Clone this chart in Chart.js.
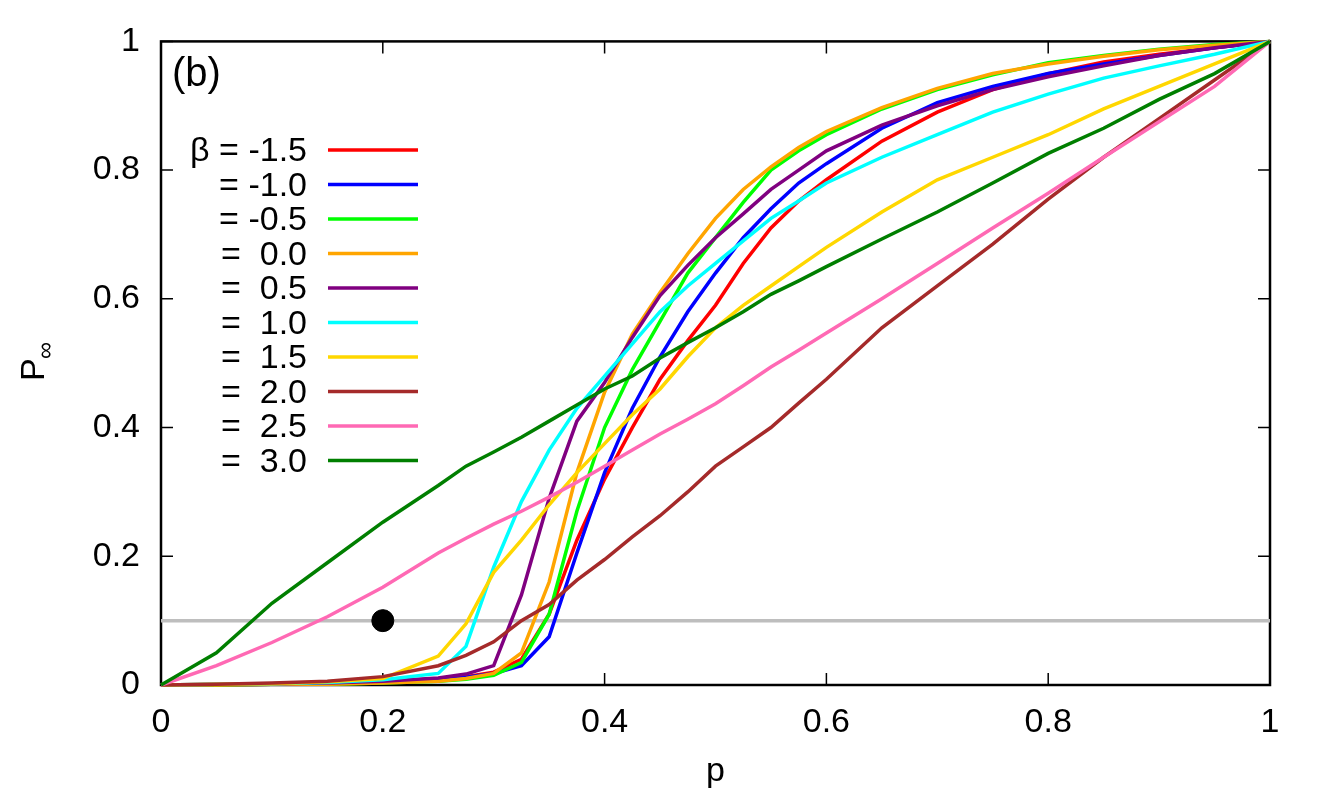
<!DOCTYPE html>
<html>
<head>
<meta charset="utf-8">
<script src="https://cdn.jsdelivr.net/npm/chart.js@4.4.1/dist/chart.umd.min.js"></script>
<style>
  html, body { margin: 0; padding: 0; background: #fff; }
  #wrap { width: 1329px; height: 797px; }
</style>
</head>
<body>
<div id="wrap"><canvas id="chart" width="1329" height="797"></canvas></div>
<script>
'use strict';

// occupation probability p (shared x grid)
const pValues = [0, 0.05, 0.1, 0.15, 0.2, 0.25, 0.275, 0.3, 0.325, 0.35, 0.375, 0.4, 0.425, 0.45,
    0.475, 0.5, 0.525, 0.55, 0.575, 0.6, 0.65, 0.7, 0.75, 0.8, 0.85, 0.9, 0.95, 1];

const betaLabels = ['β = -1.5', '= -1.0', '= -0.5', '=  0.0', '=  0.5', '=  1.0', '=  1.5', '=  2.0', '=  2.5', '=  3.0'];

const betaM15 = [0, 0, 0.001, 0.002, 0.005, 0.009, 0.013, 0.02, 0.04, 0.11, 0.225, 0.32, 0.40, 0.475,
    0.535, 0.59, 0.655, 0.71, 0.752, 0.785, 0.845, 0.89, 0.925, 0.95, 0.968, 0.98, 0.99, 1];
const betaM10 = [0, 0, 0.001, 0.002, 0.004, 0.008, 0.012, 0.018, 0.03, 0.075, 0.205, 0.33, 0.43, 0.51,
    0.58, 0.64, 0.695, 0.74, 0.78, 0.81, 0.865, 0.905, 0.93, 0.95, 0.965, 0.978, 0.99, 1];
const betaM05 = [0, 0, 0.001, 0.001, 0.003, 0.006, 0.009, 0.015, 0.035, 0.11, 0.27, 0.40, 0.49, 0.565,
    0.64, 0.695, 0.75, 0.80, 0.83, 0.855, 0.895, 0.925, 0.948, 0.967, 0.978, 0.988, 0.995, 1];
const beta00 = [0, 0, 0.001, 0.001, 0.003, 0.006, 0.01, 0.018, 0.05, 0.16, 0.33, 0.455, 0.545, 0.61,
    0.67, 0.725, 0.77, 0.805, 0.835, 0.86, 0.897, 0.927, 0.95, 0.965, 0.977, 0.987, 0.994, 1];
const beta05 = [0, 0.001, 0.002, 0.003, 0.006, 0.011, 0.017, 0.03, 0.14, 0.29, 0.41, 0.47, 0.54, 0.605,
    0.652, 0.695, 0.732, 0.77, 0.80, 0.83, 0.87, 0.90, 0.925, 0.945, 0.962, 0.978, 0.99, 1];
const beta10 = [0, 0.001, 0.002, 0.004, 0.008, 0.018, 0.06, 0.183, 0.285, 0.365, 0.43, 0.48, 0.53, 0.58,
    0.62, 0.655, 0.69, 0.725, 0.752, 0.78, 0.82, 0.855, 0.89, 0.918, 0.943, 0.962, 0.98, 1];
const beta15 = [0, 0.001, 0.002, 0.005, 0.01, 0.045, 0.095, 0.175, 0.225, 0.28, 0.33, 0.375, 0.42, 0.46,
    0.51, 0.555, 0.59, 0.62, 0.65, 0.68, 0.735, 0.785, 0.82, 0.855, 0.895, 0.93, 0.965, 1];
const beta20 = [0, 0.001, 0.003, 0.006, 0.013, 0.03, 0.046, 0.067, 0.10, 0.125, 0.163, 0.195, 0.23, 0.263,
    0.30, 0.34, 0.37, 0.40, 0.438, 0.475, 0.555, 0.62, 0.685, 0.755, 0.82, 0.88, 0.94, 1];
const beta25 = [0, 0.03, 0.066, 0.106, 0.152, 0.205, 0.228, 0.25, 0.27, 0.292, 0.315, 0.34, 0.365, 0.39,
    0.413, 0.437, 0.465, 0.494, 0.52, 0.547, 0.60, 0.655, 0.71, 0.764, 0.82, 0.875, 0.93, 1];
const beta30 = [0, 0.05, 0.127, 0.19, 0.253, 0.31, 0.34, 0.362, 0.385, 0.41, 0.435, 0.46, 0.48, 0.508,
    0.532, 0.555, 0.58, 0.607, 0.628, 0.65, 0.693, 0.735, 0.78, 0.826, 0.865, 0.91, 0.95, 1];

const seriesValues = [betaM15, betaM10, betaM05, beta00, beta05, beta10, beta15, beta20, beta25, beta30];
const seriesColors = ['#ff0000', '#0000ff', '#00ff00', '#ffa500', '#800080', '#00ffff', '#ffd700',
    '#a52a2a', '#ff69b4', '#007f00'];

const thresholdP = 0.1;       // grey horizontal line
const markerPoint = [0.2, 0.1]; // black dot

const axisTicks = [0, 0.2, 0.4, 0.6, 0.8, 1];
const tickText = ['0', '0.2', '0.4', '0.6', '0.8', '1'];

const FONT = '"Liberation Sans", Arial, Helvetica, sans-serif';
const FONT_SIZE = 34;

function toPoints(ys) {
    return ys.map((y, i) => ({ x: pValues[i], y: y }));
}

const datasets = seriesValues.map((ys, i) => ({
    label: betaLabels[i],
    data: toPoints(ys),
    borderColor: seriesColors[i],
    borderWidth: 3.5,
    pointRadius: 0,
    showLine: true,
    fill: false,
    order: -i,
    clip: false,
}));

datasets.push({
    label: 'threshold',
    data: [{ x: 0, y: thresholdP }, { x: 1, y: thresholdP }],
    borderColor: '#bebebe',
    borderWidth: 3.5,
    pointRadius: 0,
    showLine: true,
    order: 100,
    clip: false,
});

datasets.push({
    label: 'marker',
    data: [{ x: markerPoint[0], y: markerPoint[1] }],
    backgroundColor: '#000',
    borderColor: '#000',
    pointRadius: 11,
    showLine: false,
    order: 50,
});

// gnuplot-like frame with inward ticks, drawn under the curves
const framePlugin = {
    id: 'frame',
    beforeDatasetsDraw(chart) {
        const { ctx, chartArea: a, scales } = chart;
        ctx.save();
        ctx.strokeStyle = '#000';
        ctx.lineWidth = 1.5;
        const len = 12;
        ctx.beginPath();
        axisTicks.forEach((v) => {
            const x = scales.x.getPixelForValue(v);
            ctx.moveTo(x, a.bottom); ctx.lineTo(x, a.bottom - len);
            ctx.moveTo(x, a.top); ctx.lineTo(x, a.top + len);
            const y = scales.y.getPixelForValue(v);
            ctx.moveTo(a.left, y); ctx.lineTo(a.left + len, y);
            ctx.moveTo(a.right, y); ctx.lineTo(a.right - len, y);
        });
        ctx.stroke();
        ctx.lineWidth = 2.5;
        ctx.strokeRect(a.left, a.top, a.right - a.left, a.bottom - a.top);
        ctx.restore();
    },
    afterDraw(chart) {
        const { ctx, chartArea: a } = chart;
        ctx.save();
        ctx.fillStyle = '#000';

        // panel tag
        ctx.font = '40px ' + FONT;
        ctx.textAlign = 'left';
        ctx.textBaseline = 'alphabetic';
        ctx.fillText('(b)', a.left + 11, 86);

        // axis titles
        ctx.font = FONT_SIZE + 'px ' + FONT;
        ctx.textAlign = 'center';
        ctx.fillText('p', (a.left + a.right) / 2, 781);

        ctx.save();
        ctx.translate(44, 362);
        ctx.rotate(-Math.PI / 2);
        ctx.textAlign = 'left';
        ctx.fillText('P', -19, 0);
        ctx.font = '24px ' + FONT;
        ctx.fillText('∞', 3, 9);
        ctx.restore();

        // key: right-aligned text with a line sample on its right
        const rowY0 = 150;
        const rowGap = 34.5;
        ctx.font = FONT_SIZE + 'px ' + FONT;
        ctx.textAlign = 'right';
        ctx.textBaseline = 'middle';
        chart.data.datasets.slice(0, betaLabels.length).forEach((ds, i) => {
            const y = rowY0 + i * rowGap;
            ctx.fillStyle = '#000';
            ctx.fillText(ds.label, 307, y + 2);
            ctx.strokeStyle = ds.borderColor;
            ctx.lineWidth = 3.5;
            ctx.beginPath();
            ctx.moveTo(328, y);
            ctx.lineTo(418, y);
            ctx.stroke();
        });
        ctx.restore();
    },
};

new Chart(document.getElementById('chart'), {
    type: 'scatter',
    data: { datasets: datasets },
    options: {
        responsive: false,
        animation: false,
        layout: { padding: { left: 0, top: 37, right: 59, bottom: 0 } },
        plugins: { legend: { display: false }, tooltip: { enabled: false } },
        scales: {
            x: {
                type: 'linear',
                min: 0,
                max: 1,
                afterFit(scale) { scale.height = 112; },
                afterBuildTicks(scale) { scale.ticks = axisTicks.map((v) => ({ value: v })); },
                grid: { display: false, drawTicks: false },
                border: { display: false },
                ticks: {
                    padding: 17,
                    color: '#000',
                    font: { size: FONT_SIZE, family: FONT },
                    maxRotation: 0,
                    callback: (v) => tickText[axisTicks.indexOf(v)],
                },
            },
            y: {
                type: 'linear',
                min: 0,
                max: 1,
                afterFit(scale) { scale.width = 161; },
                afterBuildTicks(scale) { scale.ticks = axisTicks.map((v) => ({ value: v })); },
                grid: { display: false, drawTicks: false },
                border: { display: false },
                ticks: {
                    padding: 21,
                    color: '#000',
                    font: { size: FONT_SIZE, family: FONT },
                    callback: (v) => tickText[axisTicks.indexOf(v)],
                },
            },
        },
    },
    plugins: [framePlugin],
});
</script>
</body>
</html>
